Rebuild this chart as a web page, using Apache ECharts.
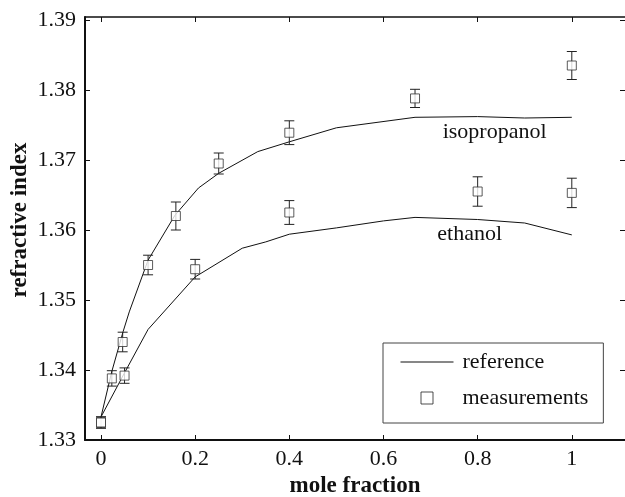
<!DOCTYPE html>
<html>
<head>
<meta charset="utf-8">
<script src="https://cdn.jsdelivr.net/npm/echarts@6/dist/echarts.min.js"></script>
<style>
  html, body { margin: 0; padding: 0; background: #fff; }
  #chart { width: 625px; height: 497px; }
</style>
</head>
<body>
<div id="chart"></div>
<script>
// Tick positions
const xTicks = [0, 0.2, 0.4, 0.6, 0.8, 1];
const yTicks = [1.33, 1.34, 1.35, 1.36, 1.37, 1.38, 1.39];

// Reference curves (literature values)
const isoRefX = [0, 0.023, 0.047, 0.06, 0.1, 0.157, 0.207, 0.25, 0.333, 0.4, 0.5, 0.667, 0.8, 0.9, 1];
const isoRefY = [1.3333, 1.3398, 1.3455, 1.3483, 1.3557, 1.3621, 1.3660, 1.3681, 1.3712, 1.3726, 1.3746, 1.3761, 1.3762, 1.3760, 1.3761];
const ethRefX = [0, 0.05, 0.1, 0.2, 0.3, 0.35, 0.4, 0.5, 0.6, 0.667, 0.8, 0.9, 1];
const ethRefY = [1.3333, 1.3396, 1.3458, 1.3533, 1.3574, 1.3583, 1.3594, 1.3603, 1.3613, 1.3618, 1.3615, 1.3610, 1.3593];

// Measurements with uncertainty
const isoX = [0, 0.023, 0.046, 0.1, 0.159, 0.25, 0.4, 0.667, 1];
const isoMeas = [1.3325, 1.3388, 1.3440, 1.3550, 1.3620, 1.3695, 1.3739, 1.3788, 1.3835];
const isoErr = [0.0008, 0.0011, 0.0014, 0.0014, 0.0020, 0.0015, 0.0017, 0.0013, 0.0020];
const ethX = [0, 0.05, 0.2, 0.4, 0.8, 1];
const ethMeas = [1.3325, 1.3392, 1.3544, 1.3625, 1.3655, 1.3653];
const ethErr = [0.0008, 0.0011, 0.0014, 0.0017, 0.0021, 0.0021];

// Curve labels: [text, x, y]
const curveLabels = [['isopropanol', 0.836, 1.3739], ['ethanol', 0.783, 1.3594]];

const FONT = '"Liberation Serif", "Times New Roman", serif';
const zip = (xs, ys) => xs.map((x, i) => [x, ys[i]]);

const chart = echarts.init(document.getElementById('chart'), null, { renderer: 'canvas' });

function errorBars(xs, ys, es) {
  return xs.map((x, i) => [x, ys[i] - es[i], ys[i] + es[i]]);
}

const errorSeries = (data) => ({
  type: 'custom',
  name: 'error',
  z: 2,
  silent: true,
  data: data,
  renderItem: function (params, api) {
    const x = api.value(0);
    const lo = api.coord([x, api.value(1)]);
    const hi = api.coord([x, api.value(2)]);
    const cap = 5;
    const style = { stroke: '#222', lineWidth: 1, fill: null };
    return {
      type: 'group',
      children: [
        { type: 'line', shape: { x1: lo[0], y1: lo[1], x2: hi[0], y2: hi[1] }, style: style },
        { type: 'line', shape: { x1: lo[0] - cap, y1: lo[1], x2: lo[0] + cap, y2: lo[1] }, style: style },
        { type: 'line', shape: { x1: hi[0] - cap, y1: hi[1], x2: hi[0] + cap, y2: hi[1] }, style: style }
      ]
    };
  }
});

const lineSeries = (data, label) => ({
  type: 'line',
  name: 'reference',
  data: data,
  symbol: 'none',
  lineStyle: { color: '#111', width: 1 },
  itemStyle: { color: '#111' },
  z: 1,
  silent: true,
  markPoint: {
    symbol: 'circle',
    symbolSize: 0,
    silent: true,
    label: { show: true, position: 'inside', formatter: label[0], fontFamily: FONT, fontSize: 22, color: '#111' },
    data: [{ coord: [label[1], label[2]] }]
  }
});

const scatterSeries = (data) => ({
  type: 'scatter',
  name: 'measurements',
  data: data,
  symbol: 'rect',
  symbolSize: 9,
  itemStyle: { color: '#fff', borderColor: '#333', borderWidth: 1 },
  z: 3,
  silent: true
});

const axisText = { fontFamily: FONT, fontSize: 22, color: '#111' };

chart.setOption({
  animation: false,
  backgroundColor: '#fff',
  grid: { left: 85, right: 0, top: 17, bottom: 57, show: false, containLabel: false, outerBoundsMode: 'none' },
  // vertical y-axis title
  graphic: [{
    type: 'text',
    x: 20,
    y: 220,
    rotation: Math.PI / 2,
    silent: true,
    style: {
      text: 'refractive index',
      fontFamily: FONT,
      fontSize: 23,
      fontWeight: 'bold',
      fill: '#111',
      align: 'center',
      verticalAlign: 'middle'
    }
  }],
  legend: {
    orient: 'vertical',
    left: 383,
    top: 343,
    data: [
      // line sample spanning the full icon width
      { name: 'reference', icon: 'path://M0,0L53,0L53,1.2L0,1.2Z', itemStyle: { color: '#111', borderWidth: 0 } },
      // small square centred in the same icon box (the bare moves pin the box to 53 wide)
      { name: 'measurements', icon: 'path://M0,6M53,6M20.5,0L32.5,0L32.5,12L20.5,12Z', itemStyle: { color: '#fff', borderColor: '#222', borderWidth: 1 } }
    ],
    itemWidth: 53,
    itemHeight: 12,
    itemGap: 14,
    padding: [8, 15, 14, 17],
    borderColor: '#444',
    borderWidth: 1,
    selectedMode: false,
    textStyle: Object.assign({ padding: [0, 0, 0, 4] }, axisText)
  },
  xAxis: [{
    type: 'value',
    min: -0.034, max: 1.113,
    position: 'bottom',
    axisLine: { onZero: false, lineStyle: { color: '#111', width: 2 } },
    axisTick: { inside: true, length: 5, customValues: xTicks, lineStyle: { color: '#111' } },
    axisLabel: Object.assign({ customValues: xTicks, formatter: v => String(+v.toFixed(1)), margin: 8 }, axisText),
    splitLine: { show: false },
    name: 'mole fraction',
    nameLocation: 'middle',
    nameGap: 34,
    nameTextStyle: { fontFamily: FONT, fontSize: 23, fontWeight: 'bold', color: '#111' }
  }, {
    type: 'value',
    min: -0.034, max: 1.113,
    position: 'top',
    axisLine: { show: true, onZero: false, lineStyle: { color: '#111', width: 1.5 } },
    axisTick: { inside: true, length: 5, customValues: xTicks, lineStyle: { color: '#111' } },
    axisLabel: { show: false },
    splitLine: { show: false }
  }],
  yAxis: [{
    type: 'value',
    min: 1.33, max: 1.39043,
    position: 'left',
    axisLine: { show: true, onZero: false, lineStyle: { color: '#111', width: 2 } },
    axisTick: { show: true, inside: true, length: 5, customValues: yTicks, lineStyle: { color: '#111' } },
    axisLabel: Object.assign({ customValues: yTicks, formatter: v => v.toFixed(2), margin: 9 }, axisText),
    splitLine: { show: false }
  }, {
    type: 'value',
    min: 1.33, max: 1.39043,
    position: 'right',
    axisLine: { show: true, onZero: false, lineStyle: { color: '#111', width: 1 } },
    axisTick: { show: true, inside: true, length: 5, customValues: yTicks, lineStyle: { color: '#111' } },
    axisLabel: { show: false },
    splitLine: { show: false }
  }],
  series: [
    lineSeries(zip(isoRefX, isoRefY), curveLabels[0]),
    lineSeries(zip(ethRefX, ethRefY), curveLabels[1]),
    errorSeries(errorBars(isoX, isoMeas, isoErr)),
    errorSeries(errorBars(ethX, ethMeas, ethErr)),
    scatterSeries(zip(isoX, isoMeas)),
    scatterSeries(zip(ethX, ethMeas))
  ]
});
</script>
</body>
</html>
